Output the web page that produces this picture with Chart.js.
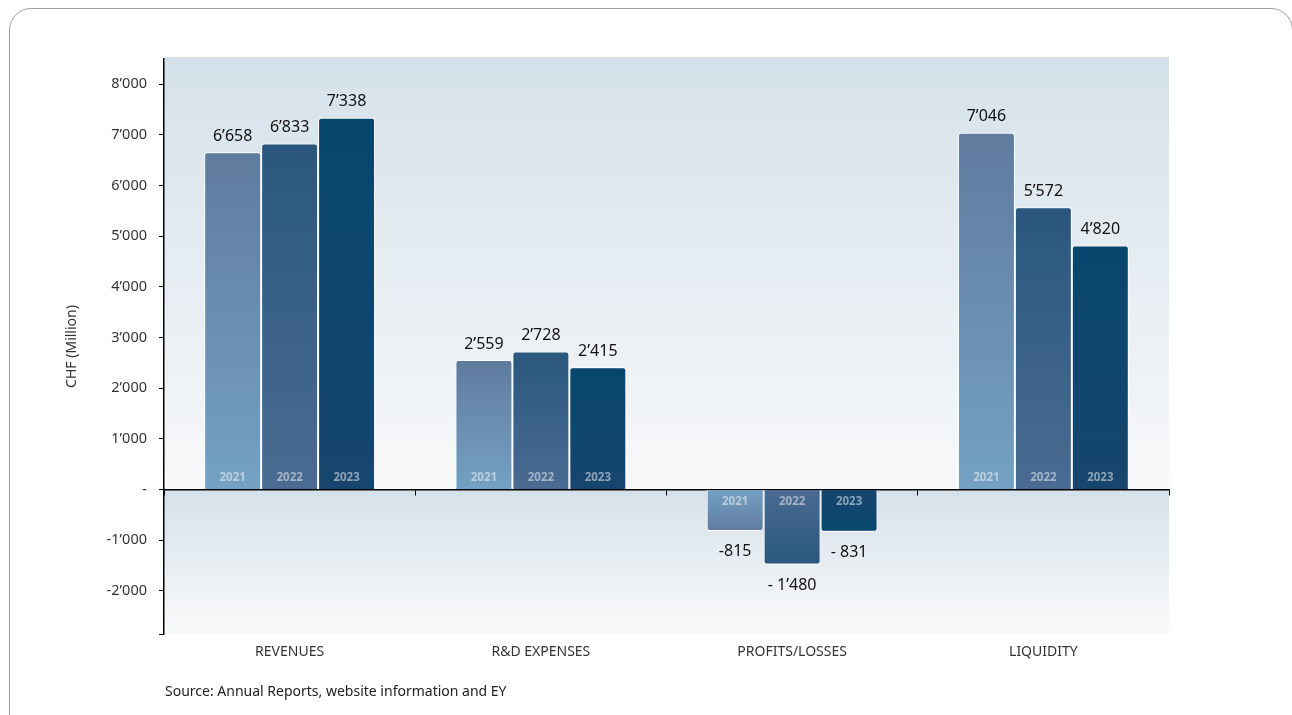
<!DOCTYPE html>
<html>
<head>
<meta charset="utf-8">
<script src="https://cdn.jsdelivr.net/npm/chart.js@4.4.1/dist/chart.umd.min.js"></script>
<style>
  html, body { margin: 0; padding: 0; background: #fff; overflow: hidden; }
  body { width: 1292px; height: 715px; position: relative; font-family: 'Noto Sans', sans-serif; }
  .card { position: absolute; left: 9px; top: 8px; width: 1284px; height: 730px; border: 1px solid #9c9c9c; border-radius: 22px; box-sizing: border-box; }
  #chart { position: absolute; left: 0; top: 0; }
  .source { position: absolute; left: 165px; top: 681px; font-size: 14px; color: #222; }
</style>
</head>
<body>
<div class="card"></div>
<canvas id="chart" width="1292" height="715"></canvas>
<div class="source">Source: Annual Reports, website information and EY</div>
<script>
// Data (CHF million)
const categories = ['REVENUES', 'R&D EXPENSES', 'PROFITS/LOSSES', 'LIQUIDITY'];
const years = ['2021', '2022', '2023'];
const values2021 = [6658, 2559, -815, 7046];
const values2022 = [6833, 2728, -1480, 5572];
const values2023 = [7338, 2415, -831, 4820];
const labels2021 = ['6’658', '2’559', '-815', '7’046'];
const labels2022 = ['6’833', '2’728', '- 1’480', '5’572'];
const labels2023 = ['7’338', '2’415', '- 831', '4’820'];
const yTicks = [-2000, -1000, 0, 1000, 2000, 3000, 4000, 5000, 6000, 7000, 8000];
const yMin = -2850;
const yMax = 8500;

// [value end colour, base colour]
const colors2021 = ['#5f7b9e', '#74a1c3'];
const colors2022 = ['#2a577d', '#4a6b92'];
const colors2023 = ['#07476d', '#17456e'];

Chart.defaults.font.family = '"Noto Sans", sans-serif';

function fmtThousands(v) {
    const s = Math.abs(v).toString().replace(/\B(?=(\d{3})+(?!\d))/g, '’');
    return (v < 0 ? '-' : '') + s;
}

function barGradient(context, pair) {
    const chart = context.chart;
    if (!chart.chartArea || context.raw === undefined) return pair[0];
    const y = chart.scales.y;
    const yEnd = y.getPixelForValue(context.raw);
    const yBase = y.getPixelForValue(0);
    if (Math.abs(yEnd - yBase) < 1) return pair[0];
    const g = chart.ctx.createLinearGradient(0, yEnd, 0, yBase);
    g.addColorStop(0, pair[0]);
    g.addColorStop(1, pair[1]);
    return g;
}

// plot area background: two fades meeting at zero
const plotBackground = {
    id: 'plotBackground',
    beforeDraw(chart) {
        const { ctx, chartArea: a, scales: { y } } = chart;
        const zero = y.getPixelForValue(0);
        ctx.save();
        let g = ctx.createLinearGradient(0, a.top, 0, zero);
        g.addColorStop(0, '#d5e1ea');
        g.addColorStop(1, '#f8f9fa');
        ctx.fillStyle = g;
        ctx.fillRect(a.left, a.top - 2, a.width, zero - a.top + 2);
        g = ctx.createLinearGradient(0, zero, 0, a.bottom);
        g.addColorStop(0, '#d5e1ea');
        g.addColorStop(1, '#fafafa');
        ctx.fillStyle = g;
        ctx.fillRect(a.left, zero, a.width, a.bottom - zero);
        ctx.restore();
    }
};

// year inside bars + value labels
const barLabels = {
    id: 'barLabels',
    afterDatasetsDraw(chart) {
        const { ctx } = chart;
        ctx.save();
        ctx.textAlign = 'center';
        ctx.textBaseline = 'middle';
        chart.data.datasets.forEach((ds, i) => {
            const meta = chart.getDatasetMeta(i);
            meta.data.forEach((bar, j) => {
                const neg = ds.data[j] < 0;
                ctx.font = 'bold 11.5px "Noto Sans", sans-serif';
                ctx.fillStyle = 'rgba(255,255,255,0.5)';
                ctx.fillText(ds.label, bar.x, bar.base + (neg ? 12 : -11));
                ctx.font = '16px "Noto Sans", sans-serif';
                ctx.fillStyle = '#111';
                ctx.fillText(ds.valueLabels[j], bar.x, bar.y + (neg ? 21 : -16));
            });
        });
        ctx.restore();
    }
};

function makeDataset(year, data, labels, pair) {
    return {
        label: year,
        data,
        valueLabels: labels,
        backgroundColor: (c) => barGradient(c, pair),
        borderColor: '#ffffff',
        borderWidth: 1,
        borderRadius: 3,
        borderSkipped: 'start',
        barPercentage: 1,
        categoryPercentage: 0.68
    };
}

new Chart(document.getElementById('chart'), {
    type: 'bar',
    data: {
        labels: categories,
        datasets: [
            makeDataset(years[0], values2021, labels2021, colors2021),
            makeDataset(years[1], values2022, labels2022, colors2022),
            makeDataset(years[2], values2023, labels2023, colors2023)
        ]
    },
    options: {
        responsive: false,
        animation: false,
        layout: { padding: { left: 60, top: 59, right: 123, bottom: 0 } },
        plugins: {
            legend: { display: false },
            tooltip: { enabled: false }
        },
        scales: {
            x: {
                position: 'bottom',
                grid: { display: false, drawTicks: false },
                border: { display: false },
                ticks: { color: '#333', font: { size: 14 }, padding: 10 },
                afterFit: (s) => { s.height = 81; }
            },
            x2: {
                type: 'category',
                labels: categories,
                position: { y: 0 },
                offset: true,
                z: 1,
                grid: { display: true, offset: true, drawOnChartArea: false, drawTicks: true, tickLength: 5, color: '#000', lineWidth: 1 },
                border: { display: true, color: '#000', width: 1.5 },
                ticks: { display: false }
            },
            y: {
                min: yMin,
                max: yMax,
                afterBuildTicks: (s) => { s.ticks = [yMin, ...yTicks].map((value) => ({ value })); },
                ticks: {
                    color: '#333',
                    font: { size: 14.5 },
                    padding: 12,
                    callback: (v) => v === yMin ? '' : (v === 0 ? '-' : fmtThousands(v))
                },
                grid: {
                    drawOnChartArea: false,
                    drawTicks: true,
                    tickLength: 5,
                    color: '#000'
                },
                border: { color: '#000', width: 1.5 },
                title: { display: true, text: 'CHF (Million)', color: '#333', font: { size: 14 } },
                afterFit: (s) => { s.width = 104; }
            }
        }
    },
    plugins: [plotBackground, barLabels]
});
</script>
</body>
</html>
